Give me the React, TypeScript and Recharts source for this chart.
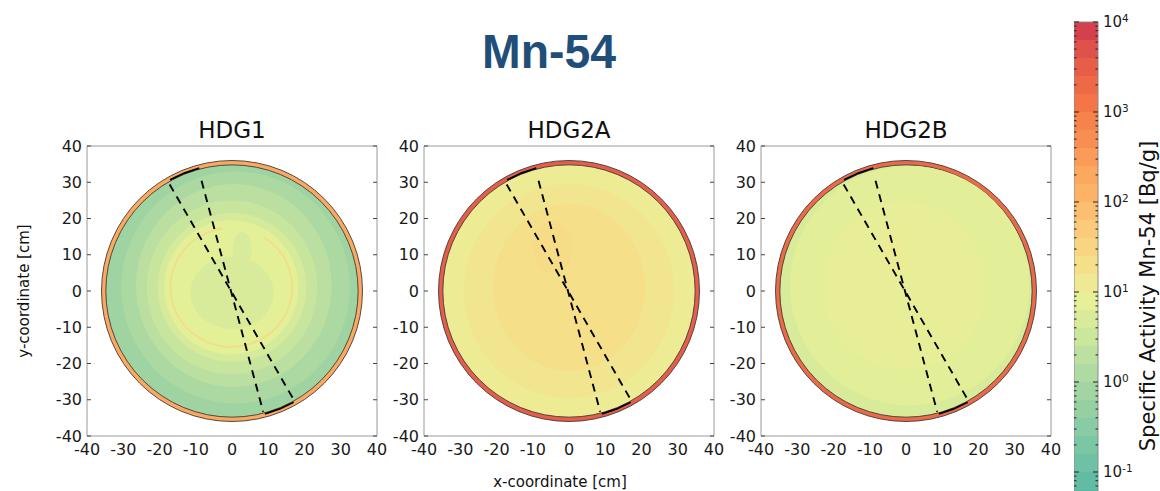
import React from 'react';
import { ScatterChart, Scatter, ComposedChart, Area, XAxis, YAxis, ZAxis } from 'recharts';

// ---- data -------------------------------------------------------------

const PANEL_NAMES = ['HDG1', 'HDG2A', 'HDG2B'];
const AXIS_TICKS = [-40, -30, -20, -10, 0, 10, 20, 30, 40];

// colour scale: log10 of specific activity, bands of 0.2 decades
const CB_LOW = -1.4;
const CB_HIGH = 4.0;
const BAND_STEPS = [
  -1.4, -1.2, -1.0, -0.8, -0.6, -0.4, -0.2, 0.0, 0.2, 0.4, 0.6, 0.8, 1.0, 1.2,
  1.4, 1.6, 1.8, 2.0, 2.2, 2.4, 2.6, 2.8, 3.0, 3.2, 3.4, 3.6, 3.8,
];
const BAND_COLORS = [
  '#58b7a3', '#62bca4', '#6ec1a4', '#7bc6a4', '#88cba4', '#95d0a3', '#a2d5a2',
  '#afdaa1', '#bde0a0', '#cbe69d', '#d9eb9a', '#e5f098', '#efe993', '#f5df89',
  '#f8d582', '#fbca7a', '#fcbe70', '#fdb366', '#fca85e', '#fb9b58', '#f98e52',
  '#f6824c', '#f37548', '#ee6946', '#e75d48', '#df514b', '#d5404f',
];
const CB_MAJOR = [0.1, 1, 10, 100, 1000, 10000];

// disc geometry [cm]
const RING_R = 36.0;
const DISK_R = 34.8;
// log10 activity of the outer rim, per slice
const RING_LEVEL = [2.3, 3.5, 3.3];

type Contour = {
  x: number;
  y: number;
  rx: number;
  ry: number;
  level: number;
  kind?: 'ring' | 'disk' | 'band' | 'line' | 'anchor';
  from?: number;
  to?: number;
};

const HDG1_CONTOURS: Contour[] = [
  { x: 0, y: 0, rx: DISK_R, ry: DISK_R, level: -0.15, kind: 'disk' },
  { x: 1, y: 1, rx: 31.5, ry: 32, level: 0.05 },
  { x: 0.5, y: 1.5, rx: 27, ry: 28, level: 0.25 },
  { x: 0, y: 1, rx: 23.5, ry: 24, level: 0.45 },
  { x: 0, y: 1, rx: 20.5, ry: 20.5, level: 0.65 },
  { x: -0.2, y: 1, rx: 18.5, ry: 18.5, level: 0.88 },
  { x: -0.2, y: 1, rx: 16.8, ry: 16.4, level: 1.6, kind: 'line', from: 98, to: 418 },
  { x: 0, y: -0.5, rx: 11.5, ry: 10, level: 0.68 },
  { x: 2.8, y: 11.5, rx: 2.6, ry: 4.8, level: 0.68 },
];

const HDG2A_CONTOURS: Contour[] = [
  { x: 0, y: 0, rx: DISK_R, ry: DISK_R, level: 1.05, kind: 'disk' },
  { x: 0, y: 0, rx: 29, ry: 29.5, level: 1.18 },
  { x: 0, y: 1, rx: 21, ry: 23, level: 1.3 },
  { x: -4.5, y: 12, rx: 5.5, ry: 7, level: 1.37 },
];

const HDG2B_CONTOURS: Contour[] = [
  { x: 0, y: 0, rx: DISK_R, ry: DISK_R, level: 0.68, kind: 'disk' },
  { x: 1, y: 1.5, rx: 33, ry: 33, level: 0.86 },
  { x: -0.5, y: 1.5, rx: 22.5, ry: 23, level: 0.95 },
  { x: -3, y: 10, rx: 4, ry: 6, level: 1.0 },
];

const PANEL_CONTOURS = [HDG1_CONTOURS, HDG2A_CONTOURS, HDG2B_CONTOURS];

// keeps the z (semi-axis) domain at 0..80 cm, same span as x
const Z_ANCHORS: Contour[] = [
  { x: 0, y: 0, rx: 0, ry: 0, level: 0, kind: 'anchor' },
  { x: 0, y: 0, rx: 80, ry: 80, level: 0, kind: 'anchor' },
];

// cutting lines and the rim marks where they meet the disc [cm]
const CUT_LINES = [
  [{ x: -17.2, y: 29.4 }, { x: 16.8, y: -29.6 }],
  [{ x: -8.4, y: 30.4 }, { x: 8.6, y: -33.3 }],
];
const CUT_ARCS = [
  [{ x: -17.1, y: 30.65 }, { x: -13.15, y: 32.54 }, { x: -9.04, y: 33.9 }],
  [{ x: 9.08, y: -33.9 }, { x: 13.15, y: -32.54 }, { x: 17.0, y: -30.7 }],
];

// ---- layout -----------------------------------------------------------

const PLOT = 290;
const PLOT_LEFTS = [87, 424, 761];
const CHART_TOP = 120;
const PLOT_TOP = 146;
const Y_AXIS_W = 45;
const FRAME = '#9a9a9a';
const TICK = '#444';
const FONT = 'DejaVu Sans';
const TICK_FONT = { fontSize: 16, fill: '#1a1a1a', fontFamily: FONT };

const CB_LEFT = 1074;
const CB_TOP = 22;
const CB_DECADE = 90;
const CB_W = 24;
const CB_LABEL_W = 62;

// ---- helpers ----------------------------------------------------------

const hex = (h: string) => [1, 3, 5].map((i) => parseInt(h.slice(i, i + 2), 16));

const colorAt = (level: number) => {
  const centers = BAND_STEPS.map((s) => s + 0.1);
  const last = centers.length - 1;
  if (level <= centers[0]) return BAND_COLORS[0];
  if (level >= centers[last]) return BAND_COLORS[last];
  let i = 0;
  while (level > centers[i + 1]) i++;
  const t = (level - centers[i]) / (centers[i + 1] - centers[i]);
  const a = hex(BAND_COLORS[i]);
  const b = hex(BAND_COLORS[i + 1]);
  return `rgb(${a.map((v, k) => Math.round(v + (b[k] - v) * t)).join(',')})`;
};

const CB_MINOR = [-2, -1, 0, 1, 2, 3]
  .flatMap((e) => [2, 3, 4, 5, 6, 7, 8, 9].map((m) => m * 10 ** e))
  .filter((v) => v >= 10 ** CB_LOW && v <= 10 ** CB_HIGH);
const CB_ALL_TICKS = [...CB_MINOR, ...CB_MAJOR].sort((a, b) => a - b);

// colour bar table: one row per x edge, one [low, high] range per band
const CB_ROWS = [0, 1].map((x) => {
  const row: Record<string, any> = { x };
  BAND_STEPS.forEach((lo, i) => {
    row[`b${i}`] = [10 ** lo, 10 ** (lo + 0.2)];
  });
  return row;
});

const NoLabel = () => <g />;
const NoPoint = () => <g />;

// inward tick marks on the colour bar edges, longer at the decades
const EdgeTick = ({ x, y, payload, side }: any) => {
  const major = CB_MAJOR.includes(payload.value);
  const len = major ? 5 : 2.5;
  return (
    <line x1={x} x2={side === 'left' ? x + len : x - len} y1={y} y2={y} stroke="#222" strokeWidth={1} />
  );
};

// one contour level, semi-axes come from the z axis scale
const ContourShape = (props: any) => {
  const c: Contour | undefined = props.payload;
  if (!c || c.kind === 'anchor') return <g />;
  const s = typeof props.size === 'number' ? props.size : Math.PI * (props.width / 2) ** 2;
  const sx = Number.isFinite(s) ? s : 0;
  const sy = c.rx > 0 ? (sx * c.ry) / c.rx : 0;
  const { cx, cy } = props;
  const color = colorAt(c.level);

  if (c.kind === 'line') {
    const pt = (deg: number) => {
      const r = (deg * Math.PI) / 180;
      return [cx + sx * Math.cos(r), cy - sy * Math.sin(r)];
    };
    const [x0, y0] = pt(c.from ?? 0);
    const [x1, y1] = pt(c.to ?? 360);
    const large = (c.to ?? 360) - (c.from ?? 0) > 180 ? 1 : 0;
    return (
      <path
        d={`M${x0},${y0} A${sx},${sy} 0 ${large} 0 ${x1},${y1}`}
        fill="none"
        stroke={color}
        strokeOpacity={0.55}
        strokeWidth={1.8}
      />
    );
  }

  const edged = c.kind === 'ring' || c.kind === 'disk';
  return (
    <ellipse
      cx={cx}
      cy={cy}
      rx={sx}
      ry={sy}
      fill={color}
      stroke={edged ? '#3c3c3c' : 'none'}
      strokeWidth={edged ? 0.9 : 0}
    />
  );
};

const PowerTick = ({ x, y, payload }: any) => {
  const e = Math.round(Math.log10(payload.value));
  return (
    <text x={x} y={y} dy="0.36em" fontSize={15} fontFamily={FONT} fill="#1a1a1a" textAnchor="start">
      10
      <tspan dy="-0.55em" fontSize={10.5}>
        {e < 0 ? `-${-e}` : e}
      </tspan>
    </text>
  );
};

// ---- components -------------------------------------------------------

function Panel({ idx }: { idx: number }) {
  const data: Contour[] = [
    { x: 0, y: 0, rx: RING_R, ry: RING_R, level: RING_LEVEL[idx], kind: 'ring' },
    ...PANEL_CONTOURS[idx],
  ];
  const right = 24;
  const axisProps = {
    type: 'number' as const,
    domain: [-40, 40],
    ticks: AXIS_TICKS,
    interval: 0 as const,
    allowDataOverflow: true,
  };
  const inward = {
    mirror: true,
    tick: NoLabel,
    tickSize: 4,
    tickLine: { stroke: TICK },
  };
  return (
    <div style={{ position: 'absolute', left: PLOT_LEFTS[idx] - Y_AXIS_W, top: CHART_TOP }}>
      <ScatterChart
        width={Y_AXIS_W + PLOT + right}
        height={PLOT_TOP - CHART_TOP + PLOT + 34}
        margin={{ top: PLOT_TOP - CHART_TOP, right, bottom: 0, left: 0 }}
      >
        <XAxis
          xAxisId="b"
          dataKey="x"
          {...axisProps}
          orientation="bottom"
          height={34}
          tickLine={false}
          tickSize={0}
          tickMargin={8}
          axisLine={{ stroke: FRAME }}
          tick={TICK_FONT}
        />
        <XAxis xAxisId="bi" {...axisProps} orientation="bottom" {...inward} axisLine={false} />
        <XAxis xAxisId="ti" {...axisProps} orientation="top" {...inward} axisLine={{ stroke: FRAME }} />
        <YAxis
          yAxisId="l"
          dataKey="y"
          {...axisProps}
          orientation="left"
          width={Y_AXIS_W}
          tickLine={false}
          tickSize={0}
          tickMargin={5}
          axisLine={{ stroke: FRAME }}
          tick={TICK_FONT}
        />
        <YAxis yAxisId="li" {...axisProps} orientation="left" {...inward} axisLine={false} />
        <YAxis yAxisId="ri" {...axisProps} orientation="right" {...inward} axisLine={{ stroke: FRAME }} />
        <ZAxis dataKey="rx" type="number" domain={[0, 80]} range={[0, PLOT]} />
        <Scatter
          xAxisId="b"
          yAxisId="l"
          data={[...Z_ANCHORS, ...data]}
          shape={ContourShape}
          isAnimationActive={false}
        />
        {CUT_LINES.map((seg, i) => (
          <Scatter
            key={`cut${i}`}
            xAxisId="b"
            yAxisId="l"
            data={seg}
            line={{ stroke: '#000', strokeWidth: 1.9, strokeDasharray: '8 6' }}
            lineType="joint"
            shape={NoPoint}
            isAnimationActive={false}
          />
        ))}
        {CUT_ARCS.map((seg, i) => (
          <Scatter
            key={`arc${i}`}
            xAxisId="b"
            yAxisId="l"
            data={seg}
            line={{ stroke: '#000', strokeWidth: 1.8 }}
            lineType="joint"
            shape={NoPoint}
            isAnimationActive={false}
          />
        ))}
      </ScatterChart>
    </div>
  );
}

function ColorBar() {
  const logProps = {
    type: 'number' as const,
    scale: 'log' as const,
    domain: [10 ** CB_LOW, 10 ** CB_HIGH],
    allowDataOverflow: true,
  };
  const height = CB_TOP + (CB_HIGH - CB_LOW) * CB_DECADE;
  return (
    <div style={{ position: 'absolute', left: CB_LEFT, top: 0 }}>
      <ComposedChart
        width={CB_W + CB_LABEL_W}
        height={height}
        data={CB_ROWS}
        margin={{ top: CB_TOP, right: 0, bottom: 0, left: 0 }}
      >
        <XAxis xAxisId="c" dataKey="x" type="number" domain={[0, 1]} hide allowDataOverflow />
        <XAxis
          xAxisId="ct"
          type="number"
          domain={[0, 1]}
          orientation="top"
          mirror
          tick={NoLabel}
          tickLine={false}
          axisLine={{ stroke: '#8a8a8a' }}
          allowDataOverflow
        />
        <YAxis
          yAxisId="lab"
          {...logProps}
          orientation="right"
          width={CB_LABEL_W}
          ticks={CB_MAJOR}
          interval={0}
          tick={<PowerTick />}
          tickLine={false}
          tickSize={0}
          tickMargin={5}
          axisLine={false}
        />
        {BAND_STEPS.map((lo, i) => (
          <Area
            key={lo}
            xAxisId="c"
            yAxisId="lab"
            dataKey={`b${i}`}
            type="linear"
            stroke="none"
            fill={BAND_COLORS[i]}
            fillOpacity={1}
            dot={false}
            activeDot={false}
            isAnimationActive={false}
          />
        ))}
        <YAxis
          yAxisId="edgeL"
          {...logProps}
          orientation="left"
          mirror
          ticks={CB_ALL_TICKS}
          interval={0}
          tick={<EdgeTick side="left" />}
          tickLine={false}
          tickSize={0}
          tickMargin={0}
          axisLine={{ stroke: '#8a8a8a' }}
        />
        <YAxis
          yAxisId="edgeR"
          {...logProps}
          orientation="right"
          mirror
          ticks={CB_ALL_TICKS}
          interval={0}
          tick={<EdgeTick side="right" />}
          tickLine={false}
          tickSize={0}
          tickMargin={0}
          axisLine={{ stroke: '#8a8a8a' }}
        />
      </ComposedChart>
    </div>
  );
}

export default function App() {
  return (
    <div
      style={{
        position: 'absolute',
        left: 0,
        top: 0,
        width: 1160,
        height: 491,
        overflow: 'hidden',
        background: '#fff',
      }}
    >
      {PANEL_NAMES.map((_, i) => (
        <Panel key={i} idx={i} />
      ))}
      <ColorBar />
      <svg width={1160} height={491} style={{ position: 'absolute', left: 0, top: 0, pointerEvents: 'none' }}>
        <text
          x={549}
          y={68}
          textAnchor="middle"
          fontFamily="Liberation Sans, Arial, sans-serif"
          fontWeight="bold"
          fontSize={48}
          fill="#1f4e79"
          textLength={134}
          lengthAdjust="spacingAndGlyphs"
        >
          Mn-54
        </text>
        {PANEL_NAMES.map((name, i) => (
          <text key={name} x={PLOT_LEFTS[i] + PLOT / 2} y={138} textAnchor="middle" fontFamily={FONT} fontSize={23} fill="#111">
            {name}
          </text>
        ))}
        <text x={29} y={291} transform="rotate(-90 29 291)" textAnchor="middle" fontFamily={FONT} fontSize={15} fill="#111">
          y-coordinate [cm]
        </text>
        <text x={560} y={487} textAnchor="middle" fontFamily={FONT} fontSize={15} fill="#111">
          x-coordinate [cm]
        </text>
        <text x={1155} y={296} transform="rotate(-90 1155 296)" textAnchor="middle" fontFamily={FONT} fontSize={21} fill="#111">
          Specific Activity Mn-54 [Bq/g]
        </text>
      </svg>
    </div>
  );
}
